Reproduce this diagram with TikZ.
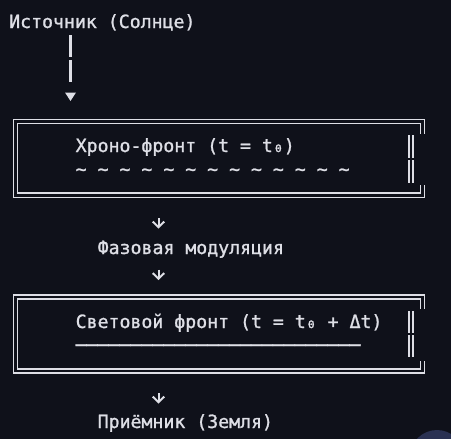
\documentclass[tikz,border=0pt]{standalone}
\usepackage{fontspec}
\setmonofont{DejaVu Sans Mono}[FakeBold=1.2]
\usetikzlibrary{arrows.meta, positioning}
\definecolor{bgdark}{HTML}{0F111A}
\definecolor{ink}{HTML}{DEDFE6}
\definecolor{knob}{HTML}{2A3152}

\begin{document}
\begin{tikzpicture}[x=1pt, y=-1pt,
    txt/.style={anchor=base west, inner sep=0pt, text=ink,
        font=\fontsize{18.2}{24}\selectfont\ttfamily},
    frame/.style={draw=ink, line width=1.6pt, double=bgdark, double distance=2.6pt},
    stem/.style={draw=ink, line width=2.4pt},
    arr/.style={-{Straight Barb[length=5.5pt, width=11.5pt]}, draw=ink, line width=2pt}
]
\useasboundingbox (0,0) rectangle (451,439);
\fill[bgdark] (0,0) rectangle (451,439);
\begin{scope}
  \clip (0,0) rectangle (451,439);
  \fill[knob] (437,457) circle (27);
\end{scope}

% Source and its stem
\node[txt] (src) at (9,28) {Источник (Солнце)};
\coordinate (s1) at (70.5,35);
\coordinate (s2) at (70.5,57.3);
\coordinate (s3) at (70.5,60);
\coordinate (s4) at (70.5,82.3);
\draw[stem] (s1) -- (s2);
\draw[stem] (s3) -- (s4);
\fill[ink] (65,92.5) -- (76,92.5) -- (70.5,101) -- cycle;

% First box
\draw[frame] (422.5,133.5) -- (422.5,121.5) -- (15.5,121.5) -- (15.5,195.2) -- (422.5,195.2) -- (422.5,185);
\draw[frame] (411,135) -- (411,157.5);
\draw[frame] (411,160) -- (411,182.5);
\node[txt] (chrono) at (75.5,152) {Хроно-фронт (t = t₀)};
\node[txt] (waves) at (75.5,175.5) {\detokenize{~ ~ ~ ~ ~ ~ ~ ~ ~ ~ ~ ~ ~}};

% Modulation step
\coordinate (d1) at (158.5,218);
\coordinate (d1e) at (158.5,228.5);
\draw[arr] (d1) -- (d1e);
\node[txt] (phase) at (97.5,254) {Фазовая модуляция};
\coordinate (d2) at (158.5,269.5);
\coordinate (d2e) at (158.5,280);
\draw[arr] (d2) -- (d2e);

% Second box
\draw[frame] (422.5,308.5) -- (422.5,297) -- (15.5,297) -- (15.5,371) -- (422.5,371) -- (422.5,360.5);
\draw[frame] (411,311) -- (411,333);
\draw[frame] (411,335) -- (411,357);
\node[txt] (light) at (75.5,328) {Световой фронт (t = t₀ + Δt)};
\node[txt] (rule) at (75.5,351.5) {──────────────────────────};

% Receiver
\coordinate (d3) at (158.5,393);
\coordinate (d3e) at (158.5,403.5);
\draw[arr] (d3) -- (d3e);
\node[txt] (recv) at (97.5,428) {Приёмник (Земля)};

\end{tikzpicture}
\end{document}
